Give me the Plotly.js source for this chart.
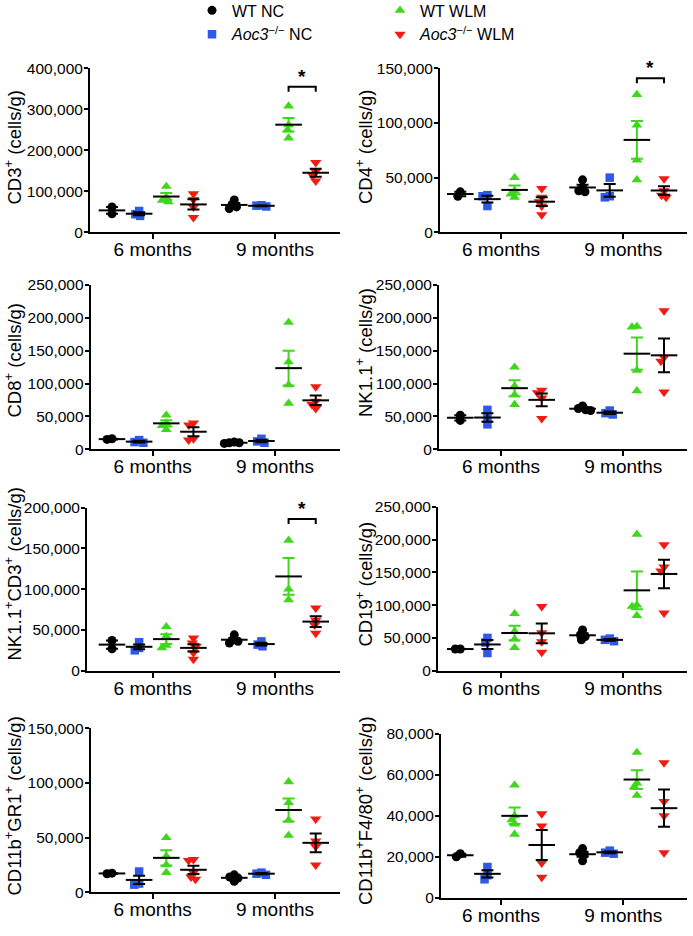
<!DOCTYPE html>
<html><head><meta charset="utf-8">
<script src="https://cdn.plot.ly/plotly-3.0.1.min.js"></script>
<style>html,body{margin:0;padding:0;background:#fff}#chart{width:693px;height:936px}</style>
</head><body><div id="chart"></div>
<script>
// ---------- DATA ----------
const timepoints = ["6 months", "9 months"];
const groupNames = ["WT NC", "<i>Aoc3</i><sup>−/−</sup> NC", "WT WLM", "<i>Aoc3</i><sup>−/−</sup> WLM"];
const panelTitles = [
  "CD3<sup>+</sup> (cells/g)", "CD4<sup>+</sup> (cells/g)",
  "CD8<sup>+</sup> (cells/g)", "NK1.1<sup>+</sup> (cells/g)",
  "NK1.1<sup>+</sup>CD3<sup>+</sup> (cells/g)", "CD19<sup>+</sup> (cells/g)",
  "CD11b<sup>+</sup>GR1<sup>+</sup> (cells/g)", "CD11b<sup>+</sup>F4/80<sup>+</sup> (cells/g)"
];
const yMax   = [400000, 150000, 250000, 250000, 200000, 250000, 150000, 80000];
const yDtick = [100000, 50000, 50000, 50000, 50000, 50000, 50000, 20000];
// order in each: [WT NC, Aoc3 NC, WT WLM, Aoc3 WLM]
const cd3_6m  = [[45000, 62000], [40000, 44000, 52000], [112000, 85000, 78000, 74000], [94000, 80000, 62000, 36000]];
const cd3_9m  = [[79000, 68000, 62000, 58000], [66000, 65000, 63000], [308000, 262000, 250000, 230000], [170000, 148000, 138000, 125000]];
const cd4_6m  = [[33000, 37000], [34000, 33000, 24000], [50000, 38000, 35000, 32000], [40000, 32000, 28000, 24000, 16000]];
const cd4_9m  = [[48000, 41000, 38000, 37000], [50000, 33000, 32000], [126000, 98000, 66000, 48000], [49000, 38000, 34000, 32000]];
const cd8_6m  = [[15000, 16000], [14000, 11000, 10000], [52000, 40000, 36000, 30000], [40000, 37000, 16000, 14000]];
const cd8_9m  = [[11000, 10000, 9000, 10000], [16000, 12000, 10000], [193000, 133000, 98000, 70000], [95000, 73000, 68000, 62000]];
const nk_6m   = [[44000, 52000], [60000, 47000, 38000], [125000, 96000, 83000, 68000], [90000, 86000, 78000, 47000]];
const nk_9m   = [[66000, 62000, 60000, 59000], [59000, 55000, 53000], [187000, 186000, 120000, 89000], [211000, 140000, 134000, 87000]];
const nkt_6m  = [[27000, 37000], [35000, 28000, 25000], [54000, 42000, 31000, 28000], [40000, 34000, 30000, 22000, 14000]];
const nkt_9m  = [[44000, 38000, 36000, 34000], [36000, 32000, 30000], [160000, 100000, 87000], [77000, 62000, 56000, 46000]];
const cd19_6m = [[33000, 33000], [50000, 43000, 27000], [87000, 60000, 48000, 35000], [98000, 58000, 44000, 28000]];
const cd19_9m = [[62000, 55000, 52000, 47000], [49000, 47000, 45000], [208000, 100000, 98000, 84000], [192000, 158000, 152000, 88000]];
const gr1_6m  = [[17000, 17500], [19000, 8000, 7000], [50000, 33000, 25000, 18000], [30000, 29000, 18000, 14000, 12000]];
const gr1_9m  = [[16000, 14000, 13000, 10000], [18000, 17000, 16000], [101000, 82000, 66000, 52000], [67000, 47000, 42000, 25000]];
const f480_6m = [[20000, 21500], [15000, 11000, 9000], [55000, 40000, 38000, 36000, 31000], [41000, 35000, 17000, 10000]];
const f480_9m = [[24000, 22000, 21000, 18000], [23000, 22000, 21500], [71000, 56000, 54000, 50000], [66000, 47000, 40000, 22000]];
// significance (WT WLM vs Aoc3 WLM at 9 months): panel index and bracket level
const sigPanels = [0, 1, 4];
const sigLevels = [355000, 141000, 186000];

const panelData = [
  [cd3_6m, cd3_9m], [cd4_6m, cd4_9m], [cd8_6m, cd8_9m], [nk_6m, nk_9m],
  [nkt_6m, nkt_9m], [cd19_6m, cd19_9m], [gr1_6m, gr1_9m], [f480_6m, f480_9m]
];

// ---------- STYLE / LAYOUT ----------
const W = 693, H = 936;
const colors = ["#000000", "#2f58e6", "#3fd61c", "#f01c12"];
const symbols = ["circle", "square", "triangle-up", "triangle-down"];
const sizes = [9, 8.5, 9.5, 10];
const errColors = ["#000000", "#000000", "#3fd61c", "#000000"];
const groupOffset = [-0.333, -0.111, 0.111, 0.333];
const FONT = "Liberation Sans, Arial, Helvetica, sans-serif";
// pixel boxes of each plot area [x0, x1, yTop, yBottom]
const boxes = [
  [90, 340, 68.3, 232.3], [440, 687, 68.3, 232.3],
  [90.7, 340, 285, 449.3], [439, 687, 285, 449.3],
  [87, 340, 507.7, 670.7], [438, 687, 506.7, 670.7],
  [90.7, 340, 728.3, 892.3], [441, 687, 734, 897.7]
];
const catCenterPx = [152.7, 501];   // pixel of "6 months" tick, left / right column
const catStepPx = 122.3;
const titleX = [13.5, 364];
const titleYc = [148, 147, 361, 353, 574, 584.5, 806, 811];

function mean(a) { return a.reduce((s, v) => s + v, 0) / a.length; }
function sem(a) {
  const m = mean(a);
  const sd = Math.sqrt(a.reduce((s, v) => s + (v - m) * (v - m), 0) / (a.length - 1));
  return sd / Math.sqrt(a.length);
}
function swarm(vals, pxY, pxX, d) {
  const idx = vals.map((v, i) => i).sort((a, b) => vals[b] - vals[a]);
  const placed = [];
  const off = new Array(vals.length).fill(0);
  for (const i of idx) {
    const yp = vals[i] * pxY;
    const cands = [0];
    for (const p of placed) {
      const dy = Math.abs(p.yp - yp);
      if (dy < d) { const dx = Math.sqrt(d * d - dy * dy); cands.push(p.xp + dx, p.xp - dx); }
    }
    cands.sort((a, b) => Math.abs(a) - Math.abs(b) || a - b);
    let chosen = 0;
    for (const c of cands) {
      if (placed.every(p => Math.hypot(p.xp - c, p.yp - yp) >= d - 1e-6)) { chosen = c; break; }
    }
    placed.push({ xp: chosen, yp });
    off[i] = chosen / pxX;
  }
  return off;
}

const traces = [];
const layout = {
  width: W, height: H,
  margin: { l: 0, r: 0, t: 0, b: 0, autoexpand: false },
  paper_bgcolor: "#ffffff", plot_bgcolor: "rgba(0,0,0,0)",
  font: { family: FONT, color: "#000000" },
  showlegend: true,
  legend: { x: 192 / W, y: 1.007, xanchor: "left", yanchor: "top", font: { size: 16, family: FONT }, bgcolor: "rgba(0,0,0,0)", tracegroupgap: 0 },
  legend2: { x: 380 / W, y: 1.007, xanchor: "left", yanchor: "top", font: { size: 16, family: FONT }, bgcolor: "rgba(0,0,0,0)", tracegroupgap: 0 },
  annotations: [], shapes: []
};

panelData.forEach((pd, p) => {
  const [x0, x1, yt, yb] = boxes[p];
  const col = p % 2;
  const c0 = catCenterPx[col];
  const sfx = p === 0 ? "" : String(p + 1);
  const pxY = (yb - yt) / yMax[p];
  layout["xaxis" + sfx] = {
    domain: [x0 / W, x1 / W], anchor: "y" + sfx,
    range: [(x0 - c0) / catStepPx, (x1 - c0) / catStepPx],
    tickvals: [0, 1], ticktext: timepoints, ticks: "outside", ticklen: 5, tickwidth: 2, tickcolor: "#000",
    ticklabelstandoff: -6,
    showline: true, linewidth: 2, linecolor: "#000", showgrid: false, zeroline: false,
    tickfont: { size: 19, family: FONT, color: "#000" }, fixedrange: true
  };
  layout["yaxis" + sfx] = {
    domain: [1 - yb / H, 1 - yt / H], anchor: "x" + sfx,
    range: [0, yMax[p]], dtick: yDtick[p], tick0: 0, tickformat: ",d",
    ticks: "outside", ticklen: 4, tickwidth: 2, tickcolor: "#000",
    ticklabelstandoff: -2,
    showline: true, linewidth: 2, linecolor: "#000", showgrid: false, zeroline: false,
    tickfont: { size: 15.5, family: FONT, color: "#000" }, fixedrange: true
  };
  layout.annotations.push({
    xref: "paper", yref: "paper", x: titleX[col] / W, y: 1 - titleYc[p] / H,
    text: panelTitles[p], textangle: -90, showarrow: false, xanchor: "center", yanchor: "middle",
    font: { size: 18.5, family: FONT, color: "#000" }
  });
  // points
  for (let g = 0; g < 4; g++) {
    const xs = [], ys = [];
    pd.forEach((tp, t) => {
      const vals = tp[g];
      const offs = swarm(vals, pxY, catStepPx, 5);
      vals.forEach((v, i) => { xs.push(t + groupOffset[g] + offs[i]); ys.push(v); });
    });
    traces.push({
      type: "scatter", mode: "markers", x: xs, y: ys, xaxis: "x" + sfx, yaxis: "y" + sfx,
      name: groupNames[g], legendgroup: "g" + g, legend: g < 2 ? "legend" : "legend2",
      showlegend: p === 0,
      marker: { symbol: symbols[g], size: sizes[g], color: colors[g], line: { width: 0 } },
      cliponaxis: false
    });
  }
  // mean ± SEM
  for (let g = 0; g < 4; g++) {
    const mx = [], my = [], me = [];
    pd.forEach((tp, t) => { mx.push(t + groupOffset[g]); my.push(mean(tp[g])); me.push(sem(tp[g])); });
    traces.push({
      type: "scatter", mode: "markers", x: mx, y: my, xaxis: "x" + sfx, yaxis: "y" + sfx,
      showlegend: false, hoverinfo: "skip",
      marker: { symbol: "line-ew", size: 19, color: "#000", line: { width: 2, color: "#000" } },
      error_y: { type: "data", array: me, visible: true, color: errColors[g], thickness: 2, width: 6 },
      cliponaxis: false
    });
  }
});

// significance brackets
sigPanels.forEach((p, k) => {
  const sfx = p === 0 ? "" : String(p + 1);
  const [x0, x1, yt, yb] = boxes[p];
  const pxY = (yb - yt) / yMax[p];
  const lvl = sigLevels[k];
  const drop = 5 / pxY;
  const xa = 1 + groupOffset[2], xb = 1 + groupOffset[3];
  layout.shapes.push({
    type: "path", xref: "x" + sfx, yref: "y" + sfx,
    path: `M ${xa},${lvl - drop} L ${xa},${lvl} L ${xb},${lvl} L ${xb},${lvl - drop}`,
    line: { color: "#000", width: 2 }
  });
  layout.annotations.push({
    xref: "x" + sfx, yref: "y" + sfx, x: (xa + xb) / 2, y: lvl, text: "<b>*</b>",
    showarrow: false, xanchor: "center", yanchor: "bottom", yshift: -2,
    font: { size: 19, family: FONT, color: "#000" }
  });
});

Plotly.newPlot("chart", traces, layout, { staticPlot: true });
</script>
</body></html>
